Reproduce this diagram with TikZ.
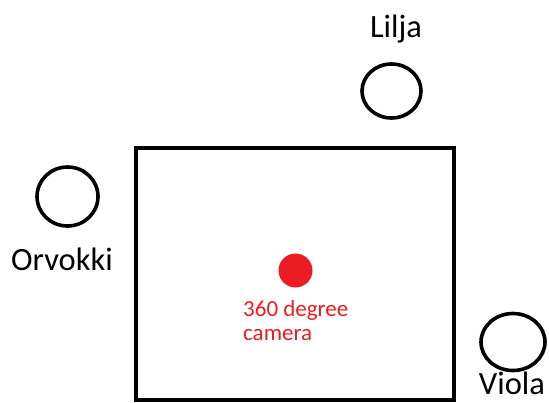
\documentclass[tikz,border=0pt]{standalone}
\usepackage{fontspec}
\setmainfont{Carlito}
\definecolor{paintred}{HTML}{ED1C24}
\begin{document}
\begin{tikzpicture}[x=1pt,y=-1pt,
  flower/.style={draw=black,line width=3.6pt},
  lbl/.style={font=\fontsize{32.5}{36}\selectfont,anchor=base,inner sep=0pt},
  redlbl/.style={font=\fontsize{23}{25}\selectfont,text=paintred,anchor=base west,inner sep=0pt}]
\useasboundingbox (0,0) rectangle (549,402);
\fill[white] (0,0) rectangle (549,402);
% room
\draw[line width=4pt] (135.5,148) rectangle (453.5,400);
% flowers
\draw[flower] (391.5,91) ellipse [x radius=29.5, y radius=27];
\draw[flower] (67.5,196.5) ellipse [x radius=30.5, y radius=29.5];
\draw[flower] (513,342) ellipse [x radius=32, y radius=28.5];
\node[lbl] (lilja) at (396,37) {Lilja};
\node[lbl] (orvokki) at (62,270) {Orvokki};
\node[lbl] (viola) at (512,394) {Viola};
% camera
\fill[paintred] (295.5,270.5) circle [radius=17];
\node[redlbl] (cam1) at (243,316) {360 degree};
\node[redlbl] (cam2) at (243,340) {camera};
\end{tikzpicture}
\end{document}
